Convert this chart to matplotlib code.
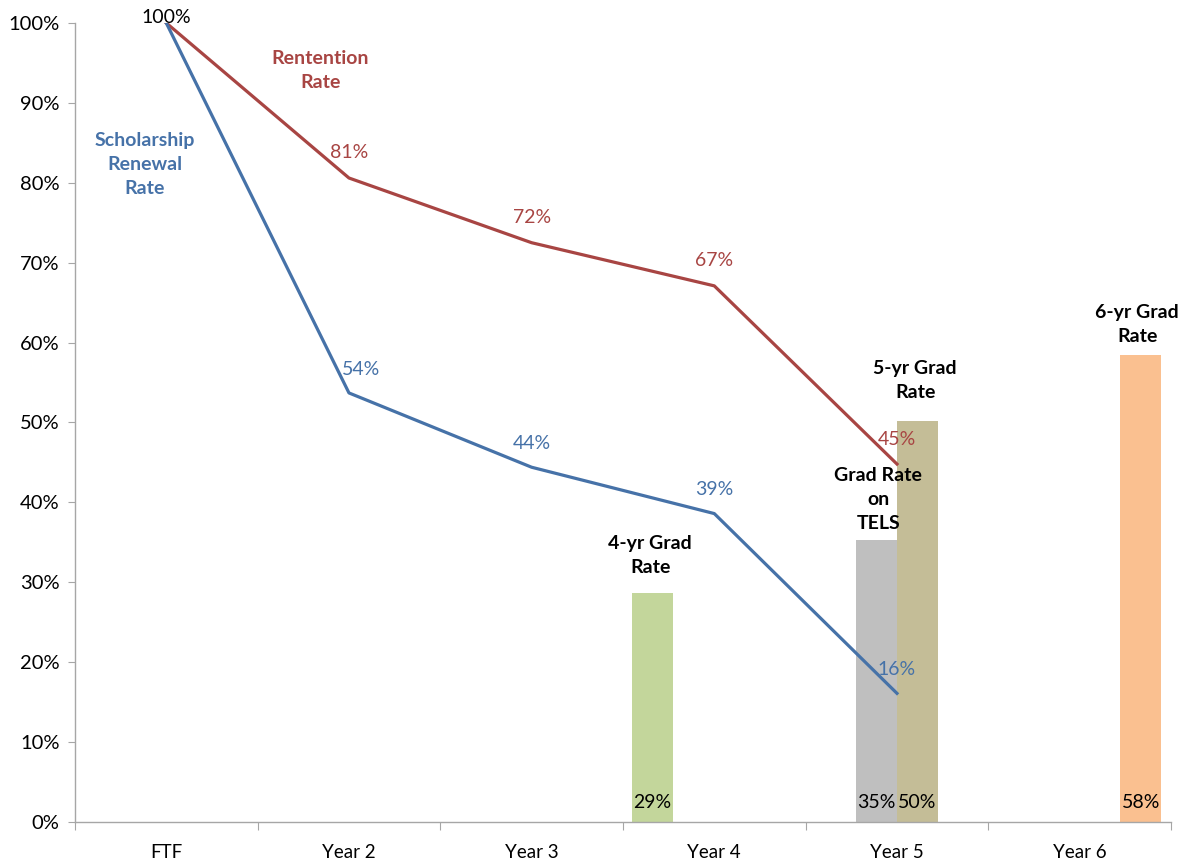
"""Retention / scholarship renewal vs. grad rates chart."""
import matplotlib

matplotlib.use("Agg")
import matplotlib.pyplot as plt
from matplotlib.ticker import FixedLocator, PercentFormatter

plt.rcParams["font.family"] = ["Lato", "DejaVu Sans"]

categories = ["FTF", "Year 2", "Year 3", "Year 4", "Year 5", "Year 6"]

retention = [1.0, 0.806, 0.725, 0.671, 0.448]
scholarship = [1.0, 0.537, 0.444, 0.386, 0.161]

# bar series: (category index, value)
grad_4yr = {3: 0.286}
grad_tels = {4: 0.353}
grad_5yr = {4: 0.502}
grad_6yr = {5: 0.585}

RED = "#A84543"
BLUE = "#4672A8"

fig = plt.figure(figsize=(11.84, 8.61), dpi=100)
ax = fig.add_axes([0.0633, 0.0453, 0.9257, 0.928])

# clustered bars, 4 slots per category
bar_w = 0.2245
slot0 = -0.5 + 0.05 + bar_w / 2
bar_series = [
    (grad_4yr, "#C3D69B"),
    (grad_tels, "#BFBFBF"),
    (grad_5yr, "#C4BD97"),
    (grad_6yr, "#FAC090"),
]
for k, (series, color) in enumerate(bar_series):
    xs = [i + slot0 + k * bar_w for i in series]
    vals = list(series.values())
    ax.bar(xs, vals, width=bar_w, color=color, zorder=1)
    for x, v in zip(xs, vals):
        ax.text(x, 0.025, f"{v * 100:.0f}%", ha="center", va="center",
                fontsize=14, color="black", zorder=3)

x_line = list(range(len(retention)))
ax.plot(x_line, retention, color=RED, lw=2.3, zorder=2)
ax.plot(x_line, scholarship, color=BLUE, lw=2.3, zorder=2)

for i, v in enumerate(retention[1:], start=1):
    ax.annotate(f"{v * 100:.0f}%", (i, v), xytext=(0, 18), textcoords="offset points",
                ha="center", va="center", fontsize=14, color=RED)
for i, v in enumerate(scholarship[1:], start=1):
    dx = 9 if i == 1 else 0
    ax.annotate(f"{v * 100:.0f}%", (i, v), xytext=(dx, 17), textcoords="offset points",
                ha="center", va="center", fontsize=14, color=BLUE)
ax.annotate("100%", (0, 1.0), xytext=(0, 4), textcoords="offset points",
            ha="center", va="center", fontsize=14, color="black")

# series names
name_kw = dict(ha="center", va="center", fontsize=14, fontweight="bold", linespacing=1.5)
ax.text(0.842, 0.941, "Rentention\nRate", color=RED, **name_kw)
ax.text(-0.117, 0.8235, "Scholarship\nRenewal\nRate", color=BLUE, **name_kw)
ax.text(2.649, 0.333, "4-yr Grad\nRate", color="black", **name_kw)
ax.text(3.898, 0.403, "Grad Rate\non\nTELS", color="black", **name_kw)
ax.text(4.10, 0.552, "5-yr Grad\nRate", color="black", **name_kw)
ax.text(5.316, 0.623, "6-yr Grad\nRate", color="black", **name_kw)

ax.set_xlim(-0.5, 5.5)
ax.set_ylim(0, 1.0)

ax.yaxis.set_major_locator(FixedLocator([i / 10 for i in range(11)]))
ax.yaxis.set_major_formatter(PercentFormatter(1.0, decimals=0))
ax.tick_params(axis="y", direction="out", length=5, color="#A6A6A6",
               labelsize=14.5, labelcolor="black", pad=6)

ax.set_xticks([i - 0.5 for i in range(len(categories) + 1)])
ax.set_xticklabels([])
ax.set_xticks(range(len(categories)), minor=True)
ax.set_xticklabels(categories, minor=True)
ax.tick_params(axis="x", which="major", direction="out", length=6, color="#A6A6A6")
ax.tick_params(axis="x", which="minor", length=0, labelsize=13.5, pad=16)

for side in ["top", "right"]:
    ax.spines[side].set_visible(False)
for side in ["left", "bottom"]:
    ax.spines[side].set_color("#A6A6A6")
    ax.spines[side].set_linewidth(1.0)

fig.savefig("out.png", dpi=100)
plt.close(fig)
